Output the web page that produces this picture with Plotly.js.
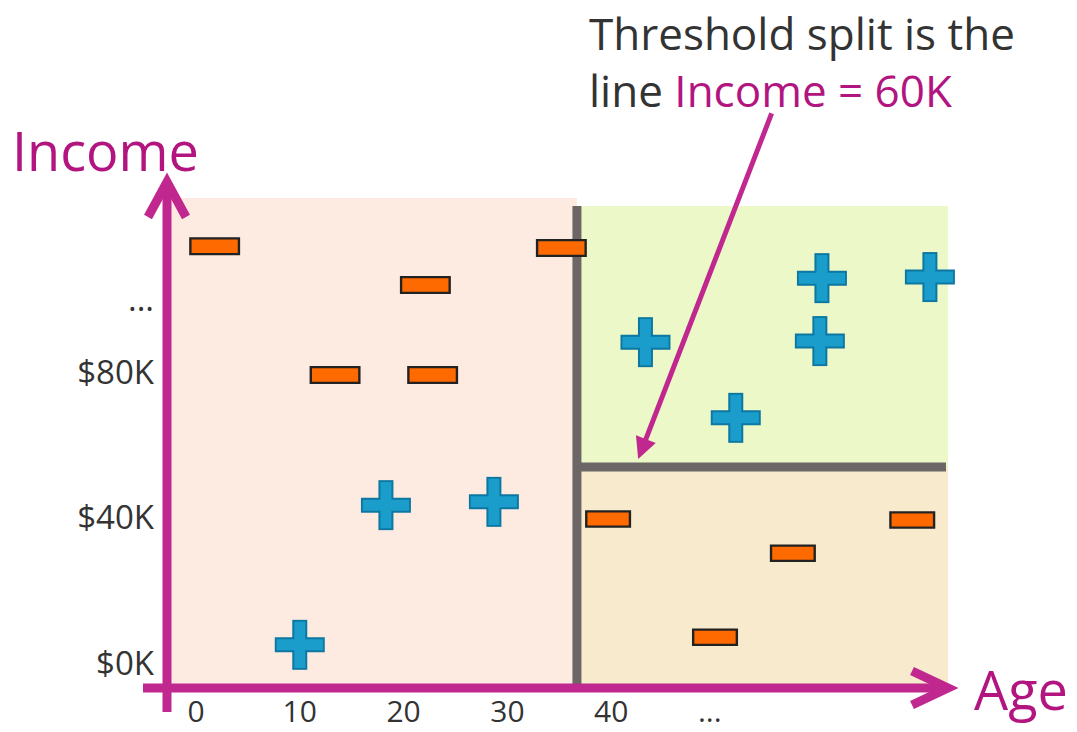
<!DOCTYPE html>
<html>
<head>
<meta charset="utf-8">
<script src="https://cdn.plot.ly/plotly-3.0.1.min.js"></script>
<style>html,body{margin:0;padding:0;background:#fff;}#chart{width:1077px;height:732px;}</style>
</head>
<body>
<div id="chart"></div>
<script>
// ---- data ----
const ageTickVals = [0, 10, 20, 30, 40, 49.5];
const ageTickText = ['0', '10', '20', '30', '40', '...'];
const incomeTickVals = [0, 40, 80, 100];
const incomeTickText = ['$0K', '$40K', '$80K', '...'];

// "-" examples left of the age split
const negLeftAge = [1.8, 22.1, 35.2, 13.4, 22.8];
const negLeftIncome = [114.6, 103.9, 114.1, 79.2, 79.2];
// "-" examples right of the age split (smaller marks)
const negRightAge = [39.7, 57.5, 69.0, 50.0];
const negRightIncome = [39.6, 30.2, 39.3, 7.1];
// "+" examples
const posAge = [10.0, 18.3, 28.7, 43.3, 52.0, 60.3, 60.1, 70.7];
const posIncome = [5.0, 43.4, 44.3, 88.2, 67.4, 105.8, 88.5, 106.1];

// split values as drawn
const splitAge = 36.7;
const splitIncome = 53.9;
const regionAgeMax = 72.45;
const leftRegionIncomeMax = 127.8;
const rightRegionIncomeMax = 125.6;
const arrowTargetAge = 42.6;

// axis ranges
const ageRange = [-2.79, 73.6];
const incomeRange = [-6.87, 138.28];

// ---- geometry helpers (plot area in pixels) ----
const M = {l: 167, r: 117, t: 160, b: 44};
const W = 1077, H = 732;
const PW = W - M.l - M.r, PH = H - M.t - M.b;
const px = v => (v - M.l) / PW;
const py = v => (H - M.b - v) / PH;

const magenta = '#c0288f';
const magentaText = '#b2157f';
const gray = '#6c6667';
const orange = '#ff6a00';
const minusEdge = '#222222';
const blue = '#1b9dcb';
const blueEdge = '#0c77a1';
const font = 'Open Sans, Noto Sans, sans-serif';

function lineMarkers(name, xs, ys, symbol, size, color, width) {
  return {
    type: 'scatter', mode: 'markers', name: name, x: xs, y: ys,
    hoverinfo: 'skip', showlegend: false,
    marker: {symbol: symbol, size: size, color: color, line: {color: color, width: width}}
  };
}

const traces = [
  lineMarkers('neg-left-edge', negLeftAge, negLeftIncome, 'line-ew', 36.4, minusEdge, 18),
  lineMarkers('neg-left', negLeftAge, negLeftIncome, 'line-ew', 33.0, orange, 13.5),
  lineMarkers('neg-right-edge', negRightAge, negRightIncome, 'line-ew', 32.9, minusEdge, 17.5),
  lineMarkers('neg-right', negRightAge, negRightIncome, 'line-ew', 29.5, orange, 13),
  lineMarkers('pos-edge-h', posAge, posIncome, 'line-ew', 35.7, blueEdge, 15),
  lineMarkers('pos-edge-v', posAge, posIncome, 'line-ns', 35.7, blueEdge, 15),
  lineMarkers('pos-h', posAge, posIncome, 'line-ew', 33.0, blue, 11),
  lineMarkers('pos-v', posAge, posIncome, 'line-ns', 33.0, blue, 11)
];

const pixShape = (path) => ({
  type: 'path', xref: 'paper', yref: 'paper', xsizemode: 'pixel', ysizemode: 'pixel',
  xanchor: 0, yanchor: 0, path: path, layer: 'above', line: {color: magenta, width: 9}
});

const shapes = [
  {type: 'rect', xref: 'x', yref: 'y', layer: 'below', x0: ageRange[0], x1: splitAge,
   y0: incomeRange[0], y1: leftRegionIncomeMax, fillcolor: '#fdebe2', line: {width: 0}},
  {type: 'rect', xref: 'x', yref: 'y', layer: 'below', x0: splitAge, x1: regionAgeMax,
   y0: splitIncome, y1: rightRegionIncomeMax, fillcolor: '#ecf8c8', line: {width: 0}},
  {type: 'rect', xref: 'x', yref: 'y', layer: 'below', x0: splitAge, x1: regionAgeMax,
   y0: incomeRange[0], y1: splitIncome, fillcolor: '#f8eacc', line: {width: 0}},
  {type: 'line', xref: 'x', yref: 'y', layer: 'below', x0: splitAge, x1: splitAge,
   y0: incomeRange[0], y1: rightRegionIncomeMax, line: {color: gray, width: 9}},
  {type: 'line', xref: 'x', yref: 'y', layer: 'below', x0: splitAge, x1: regionAgeMax - 0.2,
   y0: splitIncome, y1: splitIncome, line: {color: gray, width: 9}},
  pixShape('M-24,0L781,0'),
  pixShape('M745,17L781,0L745,-17'),
  pixShape('M0,-24L0,506'),
  pixShape('M-19,471L0,506L19,471')
];

const annotations = [
  {xref: 'paper', yref: 'paper', x: px(588), y: py(61), xanchor: 'left', yanchor: 'middle',
   showarrow: false, align: 'left', borderpad: 0,
   text: 'Threshold split is the<br>line <span style="color:' + magentaText + '">Income = 60K</span>',
   font: {family: font, size: 44, color: '#333333'}},
  {xref: 'x', yref: 'y', x: arrowTargetAge, y: splitIncome + 2.2, text: '', showarrow: true,
   axref: 'pixel', ayref: 'pixel', ax: 134, ay: -347, arrowhead: 2, arrowsize: 0.85,
   arrowwidth: 5, arrowcolor: magenta, standoff: 0},
  {xref: 'paper', yref: 'paper', x: px(105), y: py(150), xanchor: 'center', yanchor: 'middle',
   showarrow: false, text: 'Income', font: {family: font, size: 54, color: magentaText}},
  {xref: 'paper', yref: 'paper', x: px(1021), y: py(689), xanchor: 'center', yanchor: 'middle',
   showarrow: false, text: 'Age', font: {family: font, size: 54, color: magentaText}}
];

const layout = {
  width: W, height: H, margin: M,
  paper_bgcolor: '#ffffff', plot_bgcolor: '#ffffff',
  showlegend: false,
  xaxis: {range: ageRange, showgrid: false, zeroline: false, showline: false, ticks: '',
          tickvals: ageTickVals, ticktext: ageTickText, ticklabelstandoff: 3,
          tickfont: {family: font, size: 30, color: '#333333'}, fixedrange: true},
  yaxis: {range: incomeRange, showgrid: false, zeroline: false, showline: false, ticks: '',
          tickvals: incomeTickVals, ticktext: incomeTickText, ticklabelstandoff: 12,
          tickfont: {family: font, size: 33, color: '#333333'}, fixedrange: true},
  shapes: shapes,
  annotations: annotations
};

Plotly.newPlot('chart', traces, layout, {displayModeBar: false, staticPlot: true});
</script>
</body>
</html>
